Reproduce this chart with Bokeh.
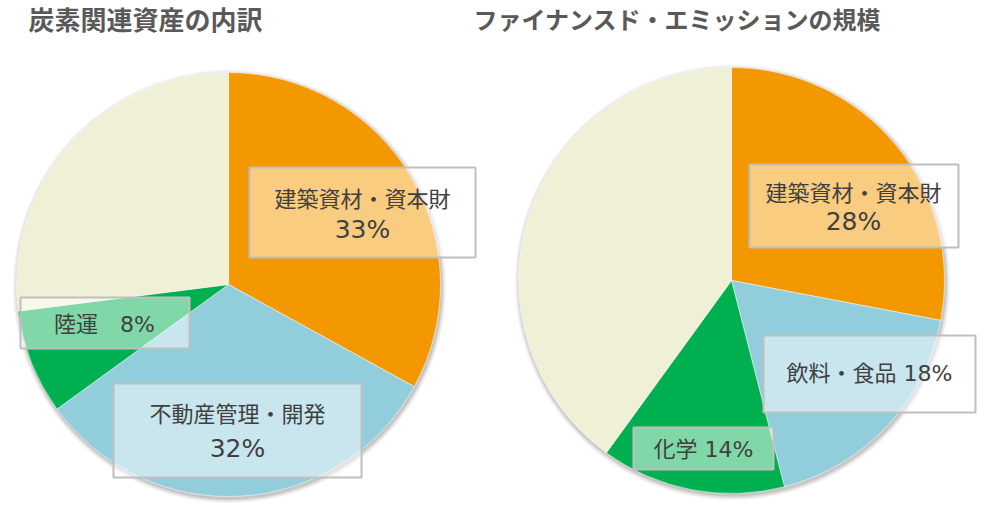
from math import pi

import numpy as np
from bokeh.core.properties import value
from bokeh.embed import file_html
from bokeh.models import ColumnDataSource, Range1d
from bokeh.plotting import figure
from bokeh.resources import INLINE

# data
left_title = "炭素関連資産の内訳"
left_labels = ["建築資材・資本財", "不動産管理・開発", "陸運", "その他"]
left_values = [33, 32, 8, 27]

right_title = "ファイナンスド・エミッションの規模"
right_labels = ["建築資材・資本財", "飲料・食品", "化学", "その他"]
right_values = [28, 18, 14, 40]

COLORS = ["#F39800", "#92CDDC", "#00B050", "#F0F0D6"]
TITLE_FONT = value("Noto Sans CJK JP")
# Verdana-like latin + CJK fallback, close to Meiryo
LABEL_FONT = value("DejaVu Sans, Noto Sans CJK JP")

W, H = 980, 505


# reference pixel -> data coordinates (1 unit = 1 px)
def X(px):
    return px


def Y(py):
    return H - py


p = figure(
    width=W, height=H, x_range=Range1d(0, W), y_range=Range1d(0, H),
    x_axis_type=None, y_axis_type=None, output_backend="svg",
    toolbar_location=None, min_border=0,
)
p.grid.visible = False
p.outline_line_color = None


def draw_pie(cx, cy, r, vals):
    # soft shadow
    for k, a in [(5, 0.025), (4, 0.035), (3, 0.045), (2, 0.06), (1, 0.08)]:
        p.circle(x=X(cx) + 1, y=Y(cy) - 2, radius=r + k, fill_color="#000000",
                 fill_alpha=a, line_color=None)
    frac = np.cumsum([0] + vals) / sum(vals)
    src = ColumnDataSource(dict(
        start=pi / 2 - frac[:-1] * 2 * pi,
        end=pi / 2 - frac[1:] * 2 * pi,
        color=COLORS,
    ))
    p.wedge(x=X(cx), y=Y(cy), radius=r, start_angle="start", end_angle="end",
            direction="clock", fill_color="color", line_color="white",
            line_alpha=0.5, line_width=1, source=src)


def label_box(l, t, r, b, lines):
    p.quad(left=X(l), right=X(r), top=Y(t), bottom=Y(b), fill_color="white",
           fill_alpha=0.5, line_color="#BFBFBF", line_width=2)
    for (tx, ty, txt, size) in lines:
        p.text(x=[X(tx)], y=[Y(ty)], text=[txt], text_font=LABEL_FONT,
               text_font_size=size, text_color="#404040",
               text_align="center", text_baseline="middle")


draw_pie(228, 284, 212, left_values)
draw_pie(731, 280, 213, right_values)

# left pie labels
label_box(249, 167, 475, 257, [(362, 199, left_labels[0], "22px"),
                               (362, 229, f"{left_values[0]}%", "25px")])
label_box(20, 297, 189, 348, [(104, 324, f"{left_labels[2]}\u3000{left_values[2]}%", "22px")])
label_box(113, 383, 361, 477, [(237, 414, left_labels[1], "22px"),
                               (237, 448, f"{left_values[1]}%", "25px")])

# right pie labels
label_box(749, 164, 958, 247, [(853, 193, right_labels[0], "22px"),
                               (853, 221, f"{right_values[0]}%", "25px")])
label_box(763, 335, 975, 412, [(869, 373, f"{right_labels[1]} {right_values[1]}%", "22px")])
label_box(633, 427, 773, 469, [(703, 449, f"{right_labels[2]} {right_values[2]}%", "22px")])

# titles
p.text(x=[X(28)], y=[Y(18)], text=[left_title], text_font=TITLE_FONT, text_font_size="26px",
       text_font_style="bold", text_color="#595959", text_align="left", text_baseline="middle")
p.text(x=[X(473)], y=[Y(18)], text=[right_title], text_font=TITLE_FONT, text_font_size="24px",
       text_font_style="bold", text_color="#595959", text_align="left", text_baseline="middle")

open("out.html", "w").write(file_html(p, INLINE))
